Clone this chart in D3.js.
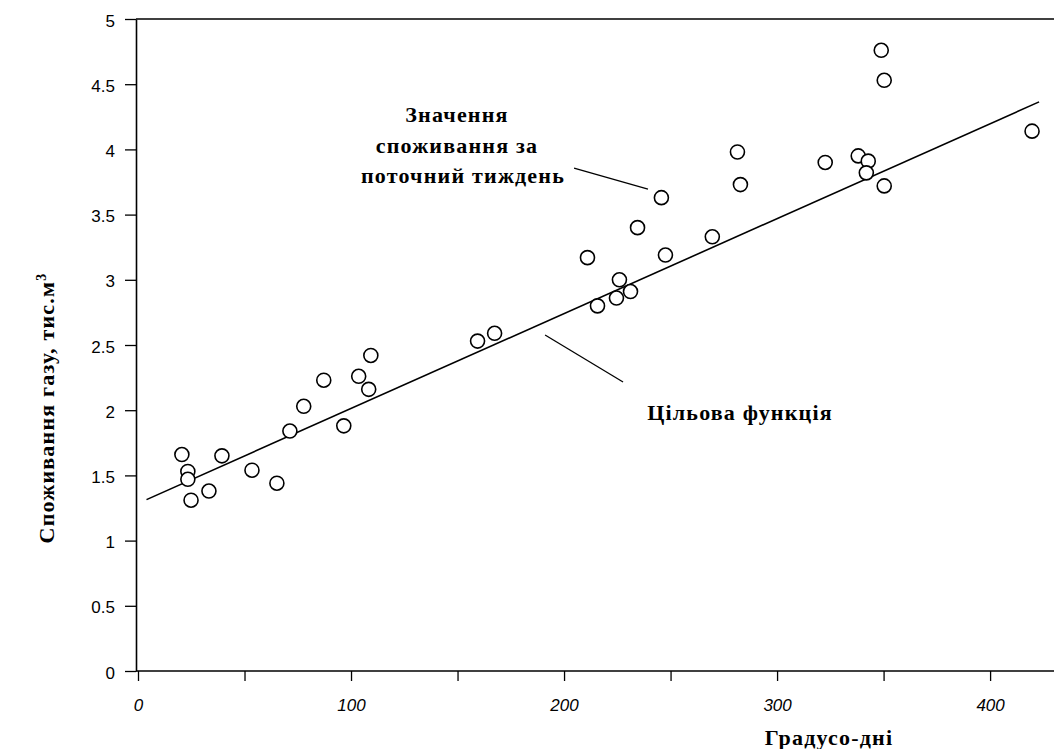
<!DOCTYPE html>
<html><head><meta charset="utf-8">
<script src="https://cdn.jsdelivr.net/npm/d3@7"></script>
<style>
html,body{margin:0;padding:0;background:#fff;}
svg{display:block;}
</style></head>
<body>
<svg id="chart" width="1054" height="749"></svg>
<script>
// Data: degree-days (x) and weekly gas consumption, thousand m3 (y)
const degreeDays = [20.6, 23.4, 23.4, 24.9, 33.3, 39.4, 53.5, 65.2, 71.3, 77.8, 87.2, 96.6, 103.6, 108.3, 109.3, 159.4, 167.4, 211, 215.7, 224.6, 226, 231.2, 234.5, 245.7, 247.6, 269.6, 281.4, 282.8, 322.6, 338.1, 342.8, 341.9, 350.3, 348.9, 350.3, 419.7];
const gasUse = [1.66, 1.53, 1.47, 1.31, 1.38, 1.65, 1.54, 1.44, 1.84, 2.03, 2.23, 1.88, 2.26, 2.16, 2.42, 2.53, 2.59, 3.17, 2.80, 2.86, 3.00, 2.91, 3.40, 3.63, 3.19, 3.33, 3.98, 3.73, 3.90, 3.95, 3.91, 3.82, 3.72, 4.76, 4.53, 4.14];
// Target function (trend line)
const targetIntercept = 1.285;
const targetSlope = 0.00728;
const targetRange = [4, 423];
// Ticks
const xTicks = [0, 50, 100, 150, 200, 250, 300, 350, 400];
const xTickLabels = ["0", "", "100", "", "200", "", "300", "", "400"];
const yTicks = [0, 0.5, 1, 1.5, 2, 2.5, 3, 3.5, 4, 4.5, 5];
const yTickLabels = ["0", "0.5", "1", "1.5", "2", "2.5", "3", "3.5", "4", "4.5", "5"];
// Text
const xTitle = "Градусо-дні";
const yTitle = "Споживання газу, тис.м";
const annotation1 = ["Значення", "споживання за", "поточний тиждень"];
const annotation2 = "Цільова функція";

const svg = d3.select("#chart");
const x = d3.scaleLinear().domain([0, 430]).range([138, 1054]);
const y = d3.scaleLinear().domain([0, 5]).range([671, 19]);
const x0 = 136;

// top border
svg.append("line").attr("x1", x0).attr("x2", 1054).attr("y1", y(5)).attr("y2", y(5))
  .attr("stroke", "#000").attr("stroke-width", 1.6);

// x axis
const xAxis = svg.append("g").attr("transform", `translate(0,${y(0)})`)
  .call(d3.axisBottom(x).tickValues(xTicks).tickFormat((d, i) => xTickLabels[i]).tickSize(10).tickPadding(18).tickSizeOuter(0));
xAxis.select(".domain").attr("d", `M${x0},0H1054`).attr("stroke-width", 1.6);
xAxis.selectAll(".tick line").attr("stroke-width", 1.3);
xAxis.selectAll("text").attr("font-family", "Liberation Sans, Arial, sans-serif")
  .attr("font-size", 17).attr("font-style", "italic").attr("fill", "#000");

// y axis
const yAxis = svg.append("g").attr("transform", `translate(${x0},0)`)
  .call(d3.axisLeft(y).tickValues(yTicks).tickFormat((d, i) => yTickLabels[i]).tickSize(11).tickPadding(10).tickSizeOuter(0));
yAxis.select(".domain").attr("stroke-width", 1.6);
yAxis.selectAll(".tick line").attr("stroke-width", 1.3);
yAxis.selectAll("text").attr("font-family", "Liberation Sans, Arial, sans-serif")
  .attr("font-size", 17).attr("fill", "#000").attr("dy", "0.42em");

// target line
svg.append("line")
  .attr("x1", x(targetRange[0])).attr("y1", y(targetIntercept + targetSlope * targetRange[0]))
  .attr("x2", x(targetRange[1])).attr("y2", y(targetIntercept + targetSlope * targetRange[1]))
  .attr("stroke", "#000").attr("stroke-width", 1.6);

// points
svg.append("g").selectAll("circle").data(degreeDays).join("circle")
  .attr("cx", d => x(d)).attr("cy", (d, i) => y(gasUse[i])).attr("r", 7)
  .attr("fill", "#fff").attr("stroke", "#000").attr("stroke-width", 1.6);

// leader lines (data coords)
const leaders = [[204.7, 3.857, 239.4, 3.696], [191.1, 2.577, 227.7, 2.216]];
svg.append("g").selectAll("line").data(leaders).join("line")
  .attr("x1", d => x(d[0])).attr("y1", d => y(d[1])).attr("x2", d => x(d[2])).attr("y2", d => y(d[3]))
  .attr("stroke", "#000").attr("stroke-width", 1.3);

const serif = "Liberation Serif, Times New Roman, serif";
function titleText(sel) {
  return sel.attr("font-family", serif).attr("font-weight", "bold").attr("font-size", 22)
    .attr("letter-spacing", 1.2).attr("text-anchor", "middle").attr("fill", "#000");
}
// annotation 1
const a1 = titleText(svg.append("text"));
const a1x = [457, 457, 463], a1y = [122, 153, 183];
annotation1.forEach((t, i) => a1.append("tspan").attr("x", a1x[i]).attr("y", a1y[i]).text(t));
// annotation 2
titleText(svg.append("text")).attr("x", 740).attr("y", 420).text(annotation2);

// axis titles
titleText(svg.append("text")).attr("x", 829).attr("y", 745).text(xTitle);
const yt = titleText(svg.append("text")).attr("transform", "translate(54,408) rotate(-90)");
yt.append("tspan").text(yTitle);
yt.append("tspan").attr("font-size", 14).attr("dy", "-0.6em").text("3");
</script>
</body></html>
